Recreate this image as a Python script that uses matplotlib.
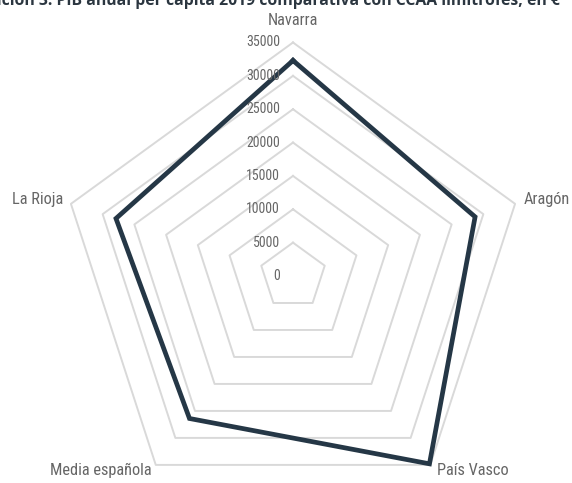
import numpy as np
import matplotlib
matplotlib.use("Agg")
import matplotlib.pyplot as plt
from matplotlib import font_manager as fm

categories = ["Navarra", "Aragón", "País Vasco", "Media española", "La Rioja"]
values = [32300, 28700, 34800, 26400, 27900]
ticks = [0, 5000, 10000, 15000, 20000, 25000, 30000, 35000]
title = "Ilustración 3. PIB anual per cápita 2019 comparativa con CCAA limítrofes, en €"

# pick the narrowest available font
names = {(f.name, str(f.stretch)) for f in fm.fontManager.ttflist}
fam_names = {f.name for f in fm.fontManager.ttflist}
stretch = "normal"
if "Liberation Sans Narrow" in fam_names:
    NARROW = ["Liberation Sans Narrow", "DejaVu Sans"]
elif "Roboto Condensed" in fam_names:
    NARROW = ["Roboto Condensed", "DejaVu Sans"]
elif any(n == "DejaVu Sans" and s in ("condensed", "semi-condensed", "75", "87.5") for n, s in names):
    NARROW = ["DejaVu Sans"]
    stretch = "condensed"
elif "Open Sans Condensed" in fam_names:
    NARROW = ["Open Sans Condensed", "DejaVu Sans"]
else:
    NARROW = ["Roboto", "DejaVu Sans"]

W, H = 572, 483
fig = plt.figure(figsize=(W / 100, H / 100), dpi=100)
renderer = fig.canvas.get_renderer()


def fit_size(text, target_px, base=12, **kw):
    p = fig.text(0, 0, text, fontsize=base, **kw)
    w = p.get_window_extent(renderer).width
    p.remove()
    return base * target_px / w


lab_fs = min(13.5, fit_size("Aragón", 46.5, family=NARROW, fontstretch=stretch))
tick_fs = min(10, fit_size("35000", 36, family=NARROW, fontstretch=stretch))

cx, cy, R = 293, 276, 233.5
ax = fig.add_axes([(cx - R) / W, (H - cy - R) / H, 2 * R / W, 2 * R / H], projection="polar")
ax.set_theta_offset(np.pi / 2)
ax.set_theta_direction(-1)
ax.set_ylim(0, ticks[-1])
ax.grid(False)
ax.spines["polar"].set_visible(False)
ax.set_xticks([])
ax.set_yticks([])
ax.patch.set_alpha(0)

n = len(categories)
theta = np.arange(n) * 2 * np.pi / n
theta_c = np.append(theta, theta[0])

for t in ticks[1:]:
    ax.plot(theta_c, [t] * (n + 1), color="#d9d9d9", lw=1.4, zorder=1, clip_on=False)

vals_c = values + [values[0]]
ax.plot(theta_c, vals_c, color="#253746", lw=3.4, zorder=3, solid_joinstyle="miter", clip_on=False)

for t in ticks:
    ax.annotate(str(t), xy=(0, t), xytext=(-13, 0), textcoords="offset pixels",
                ha="right", va="center", fontsize=tick_fs, color="#666666",
                family=NARROW, fontstretch=stretch)

label_pos = {
    "Navarra": ((0, 22), "center", "center"),
    "Aragón": ((9, 4), "left", "center"),
    "País Vasco": ((7, -6), "left", "center"),
    "Media española": ((-4, -6), "right", "center"),
    "La Rioja": ((-8, 4), "right", "center"),
}
for th, cat in zip(theta, categories):
    off, ha, va = label_pos[cat]
    ax.annotate(cat, xy=(th, ticks[-1]), xytext=off, textcoords="offset pixels",
                ha=ha, va=va, fontsize=lab_fs, color="#666666", family=NARROW,
                fontstretch=stretch, annotation_clip=False)

# Title, cut off at the top of the image as in the reference
TF = ["Open Sans", "DejaVu Sans"]
fs = fit_size("ción 3. PIB anual per cápita 2019 com", 290, base=11, fontweight="bold", family=TF)
p = fig.text(0, 0, "Ilustra", fontsize=fs, fontweight="bold", family=TF)
pw = p.get_window_extent(renderer).width
p.remove()
fig.text((2 - pw) / W, 1 - 5 / H, title, fontsize=fs, fontweight="bold",
         family=TF, color="#2b3640", ha="left", va="baseline")

fig.savefig("out.png", dpi=100)
